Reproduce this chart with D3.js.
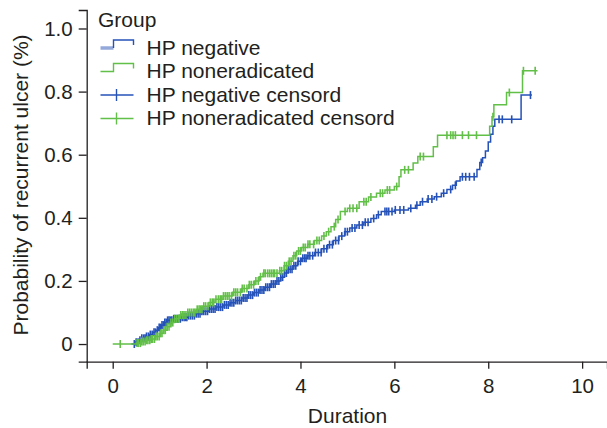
<!DOCTYPE html>
<html>
<head>
<meta charset="utf-8">
<script src="https://cdn.jsdelivr.net/npm/d3@7"></script>
<style>
  body { margin: 0; background: #fff; }
  text { font-family: "Liberation Sans", Arial, sans-serif; fill: #231f20; }
</style>
</head>
<body>
<div id="chart"></div>
<script>
var width = 607;
var height = 428;

// HP negative: step times and cumulative probability
var negTimes = [0.40, 0.48, 0.55, 0.62, 0.70, 0.78, 0.85, 0.92, 0.98, 1.04, 1.10, 1.16, 1.30, 1.45, 1.60, 1.75, 1.90, 2.05, 2.20, 2.35,
                2.50, 2.62, 2.75, 2.88, 3.00, 3.12, 3.24, 3.36, 3.48, 3.58, 3.66, 3.74, 3.84, 3.94, 4.02, 4.15, 4.30, 4.45, 4.58, 4.70,
                4.82, 4.94, 5.05, 5.20, 5.35, 5.50, 5.62, 5.72, 6.00, 6.30, 6.45, 6.55, 6.70, 6.85, 7.00, 7.12, 7.24, 7.32, 7.40, 7.76,
                7.82, 7.88, 7.94, 8.00, 8.05, 8.10, 8.14, 8.70];
var negProbs = [0, 0.006, 0.012, 0.018, 0.024, 0.030, 0.037, 0.044, 0.052, 0.060, 0.068, 0.075, 0.080, 0.085, 0.090, 0.096, 0.104, 0.111, 0.117, 0.124,
                0.131, 0.138, 0.146, 0.155, 0.163, 0.171, 0.180, 0.190, 0.200, 0.212, 0.225, 0.237, 0.248, 0.262, 0.272, 0.280, 0.290, 0.302, 0.315, 0.328,
                0.342, 0.356, 0.368, 0.377, 0.386, 0.398, 0.410, 0.420, 0.425, 0.430, 0.440, 0.451, 0.460, 0.467, 0.478, 0.490, 0.503, 0.517, 0.530, 0.553,
                0.575, 0.590, 0.612, 0.640, 0.665, 0.690, 0.712, 0.789];
var negEnd = 8.93;
var negCensor = [0.46, 0.50, 0.54, 0.58, 0.62, 0.66, 0.69, 0.72, 0.76, 0.80, 0.84, 0.88, 0.91, 0.95, 0.99, 1.02, 1.05, 1.08, 1.11, 1.14,
                 1.17, 1.20, 1.23, 1.26, 1.30, 1.33, 1.37, 1.40, 1.44, 1.48, 1.52, 1.55, 1.58, 1.62, 1.66, 1.70, 1.74, 1.78, 1.82, 1.86,
                 1.90, 1.94, 1.98, 2.02, 2.06, 2.10, 2.14, 2.18, 2.22, 2.26, 2.30, 2.34, 2.38, 2.42, 2.46, 2.50, 2.54, 2.58, 2.62, 2.66,
                 2.70, 2.74, 2.78, 2.82, 2.86, 2.90, 2.94, 2.98, 3.02, 3.06, 3.10, 3.14, 3.18, 3.22, 3.26, 3.30, 3.34, 3.38, 3.42, 3.46,
                 3.50, 3.54, 3.58, 3.62, 3.66, 3.70, 3.74, 3.78, 3.82, 3.86, 3.90, 3.95, 4.00, 4.05, 4.09, 4.12, 4.16, 4.20, 4.26, 4.32,
                 4.38, 4.44, 4.50, 4.56, 4.62, 4.68, 4.75, 4.81, 4.88, 4.95, 5.00, 5.10, 5.16, 5.25, 5.32, 5.38, 5.44, 5.56, 5.66, 5.80,
                 5.84, 5.88, 5.95, 6.02, 6.12, 6.20, 6.35, 6.48, 6.60, 6.72, 6.80, 6.90, 7.05, 7.20, 7.30, 7.45, 7.52, 7.60, 7.70, 7.85,
                 8.23, 8.30, 8.50, 8.90];

// HP noneradicated
var nonTimes = [0.00, 0.50, 0.60, 0.70, 0.80, 0.90, 1.00, 1.08, 1.16, 1.24, 1.32, 1.42, 1.60, 1.78, 1.92, 2.05, 2.18, 2.35, 2.55, 2.75,
                2.90, 3.02, 3.12, 3.20, 3.55, 3.65, 3.74, 3.84, 3.92, 4.02, 4.15, 4.30, 4.45, 4.55, 4.65, 4.75, 4.85, 5.00, 5.25, 5.45,
                5.62, 5.80, 6.00, 6.10, 6.14, 6.40, 6.50, 6.83, 6.92, 8.03, 8.08, 8.12, 8.39, 8.73];
var nonProbs = [0, 0.003, 0.008, 0.012, 0.016, 0.024, 0.034, 0.044, 0.055, 0.068, 0.080, 0.092, 0.100, 0.110, 0.120, 0.132, 0.142, 0.152, 0.164, 0.176,
                0.188, 0.200, 0.213, 0.224, 0.232, 0.248, 0.262, 0.280, 0.295, 0.306, 0.316, 0.328, 0.342, 0.356, 0.372, 0.395, 0.420, 0.430, 0.451, 0.466,
                0.478, 0.488, 0.499, 0.530, 0.552, 0.574, 0.594, 0.625, 0.662, 0.690, 0.720, 0.758, 0.797, 0.866];
var nonEnd = 9.05;
var nonCensor = [0.16, 0.52, 0.55, 0.59, 0.62, 0.65, 0.69, 0.72, 0.75, 0.79, 0.82, 0.85, 0.89, 0.92, 0.95, 0.99, 1.02, 1.05, 1.09, 1.12,
                 1.16, 1.20, 1.24, 1.28, 1.32, 1.36, 1.40, 1.45, 1.49, 1.52, 1.56, 1.60, 1.64, 1.68, 1.72, 1.75, 1.80, 1.84, 1.87, 1.90,
                 1.94, 1.98, 2.03, 2.08, 2.12, 2.15, 2.20, 2.25, 2.29, 2.32, 2.36, 2.40, 2.44, 2.48, 2.53, 2.58, 2.62, 2.66, 2.72, 2.76,
                 2.80, 2.86, 2.91, 2.95, 3.00, 3.05, 3.10, 3.15, 3.22, 3.25, 3.30, 3.34, 3.38, 3.42, 3.45, 3.50, 3.56, 3.60, 3.66, 3.70,
                 3.76, 3.80, 3.86, 3.90, 3.96, 4.00, 4.06, 4.10, 4.16, 4.20, 4.28, 4.35, 4.40, 4.50, 4.60, 4.72, 4.80, 4.95, 5.05, 5.12,
                 5.20, 5.35, 5.40, 5.50, 5.70, 5.75, 5.85, 5.90, 6.05, 6.22, 6.30, 6.55, 6.62, 7.12, 7.20, 7.25, 7.30, 7.45, 7.58, 7.75,
                 8.10, 8.45, 8.75, 9.00];

var xTicks = [0, 2, 4, 6, 8, 10];
var yTicks = [0, 0.2, 0.4, 0.6, 0.8, 1.0];
var legendLabels = ["HP negative", "HP noneradicated", "HP negative censord", "HP noneradicated censord"];

var blue = "#2552b8";
var green = "#62bf47";
var lightBlue = "#94a9da";

var svg = d3.select("#chart")
            .append("svg")
            .attr("width", width)
            .attr("height", height);

var x = d3.scaleLinear().domain([-0.554, 10.53]).range([86.7, 607]);
var y = d3.scaleLinear().domain([-0.056, 1.0586]).range([361.7, 10]);

var xAxis = svg.append("g")
               .attr("transform", "translate(0,361.7)")
               .call(d3.axisBottom(x).tickValues(xTicks).tickSizeOuter(0).tickSize(7).tickPadding(10)
                       .tickFormat(d3.format("d")));
var yAxis = svg.append("g")
               .attr("transform", "translate(86.7,0)")
               .call(d3.axisLeft(y).tickValues(yTicks).tickSizeOuter(0).tickSize(8).tickPadding(6)
                       .tickFormat(d => d === 0 ? "0" : d3.format(".1f")(d)));

svg.selectAll(".domain, .tick line").attr("stroke", "#231f20").attr("stroke-width", 1.3);
svg.selectAll(".tick text").style("font-size", "20.5px").attr("fill", "#231f20");

svg.append("text")
   .attr("x", 347.5)
   .attr("y", 423)
   .attr("text-anchor", "middle")
   .style("font-size", "21px")
   .text("Duration");

svg.append("text")
   .attr("transform", "translate(28,185) rotate(-90)")
   .attr("text-anchor", "middle")
   .style("font-size", "21px")
   .text("Probability of recurrent ulcer (%)");

var lineGenerator = d3.line()
                      .x(d => x(d[0]))
                      .y(d => y(d[1]))
                      .curve(d3.curveStepAfter);

function drawGroup(times, probs, endTime, censor, color) {
    var pts = times.map((t, i) => [t, probs[i]]);
    pts.push([endTime, probs[probs.length - 1]]);
    svg.append("path")
       .attr("d", lineGenerator(pts))
       .attr("stroke", color)
       .attr("stroke-width", 1.5)
       .attr("fill", "none");
    var bis = d3.bisector(d => d).right;
    svg.append("g")
       .selectAll("line")
       .data(censor)
       .join("line")
       .attr("x1", d => x(d))
       .attr("x2", d => x(d))
       .attr("y1", d => y(probs[Math.max(0, bis(times, d) - 1)]) - 4)
       .attr("y2", d => y(probs[Math.max(0, bis(times, d) - 1)]) + 4)
       .attr("stroke", color)
       .attr("stroke-width", 1.6);
}

drawGroup(negTimes, negProbs, negEnd, negCensor, blue);
drawGroup(nonTimes, nonProbs, nonEnd, nonCensor, green);

// legend
var legend = svg.append("g");
legend.append("text").attr("x", 98).attr("y", 26.5).style("font-size", "21px").text("Group");

var rowY = [48, 71.5, 95, 118.5];
legend.selectAll("text.item")
      .data(legendLabels)
      .join("text")
      .attr("class", "item")
      .attr("x", 146.5)
      .attr("y", (d, i) => rowY[i] + 6.5)
      .style("font-size", "21px")
      .text(d => d);

// step icons
legend.append("line").attr("x1", 100.5).attr("x2", 113.5).attr("y1", rowY[0]).attr("y2", rowY[0])
      .attr("stroke", lightBlue).attr("stroke-width", 3.5);
legend.append("path").attr("d", `M113.5,${rowY[0]}V${rowY[0] - 8}H133.5V${rowY[0] - 3}`)
      .attr("stroke", blue).attr("stroke-width", 1.4).attr("fill", "none");
legend.append("path").attr("d", `M100.5,${rowY[1]}H113.5V${rowY[1] - 8}H133.5V${rowY[1] - 3}`)
      .attr("stroke", green).attr("stroke-width", 1.4).attr("fill", "none");
// censor icons
[[rowY[2], blue], [rowY[3], green]].forEach(r => {
    legend.append("line").attr("x1", 100.5).attr("x2", 133.5).attr("y1", r[0]).attr("y2", r[0])
          .attr("stroke", r[1]).attr("stroke-width", 1.4);
    legend.append("line").attr("x1", 116.5).attr("x2", 116.5).attr("y1", r[0] - 6).attr("y2", r[0] + 6)
          .attr("stroke", r[1]).attr("stroke-width", 1.4);
});
</script>
</body>
</html>
